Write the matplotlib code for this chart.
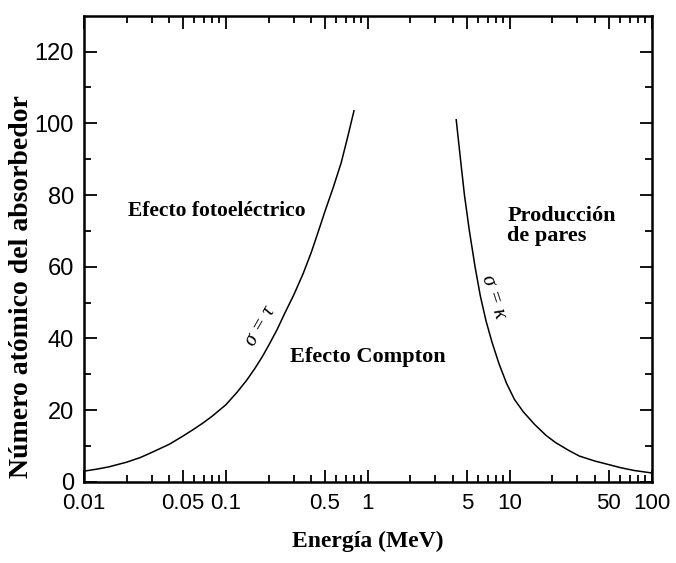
import matplotlib
matplotlib.use("Agg")
import matplotlib.pyplot as plt
import numpy as np

# frontera fotoeléctrico / Compton (sigma = tau)
e_photo = [0.01, 0.0125, 0.015, 0.02, 0.025, 0.03, 0.04, 0.05, 0.06, 0.07, 0.08, 0.1,
           0.12, 0.14, 0.16, 0.18, 0.2, 0.23, 0.26, 0.3, 0.35, 0.4, 0.45, 0.5, 0.57,
           0.65, 0.72, 0.8]
z_photo = [3, 3.6, 4.2, 5.5, 6.8, 8.2, 10.5, 12.8, 14.8, 16.6, 18.3, 21.5,
           25, 28.3, 31.6, 34.8, 38, 42.5, 47, 52, 58, 64, 70, 75.5, 82,
           89, 96, 103.5]

# frontera Compton / pares (sigma = kappa)
e_pair = [4.2, 4.5, 4.8, 5.2, 5.7, 6.2, 6.8, 7.5, 8.4, 9.5, 10.8, 12.5, 15, 18, 21,
          26, 31, 40, 48, 60, 75, 100]
z_pair = [101, 90, 80, 70, 60, 52, 45, 39, 33, 27.5, 23, 19.5, 16, 13, 11,
          8.8, 7.2, 5.8, 5, 4, 3.2, 2.5]

x_major = [0.01, 0.05, 0.1, 0.5, 1, 5, 10, 50, 100]
x_labels = ['0.01', '0.05', '0.1', '0.5', '1', '5', '10', '50', '100']
y_major = [0, 20, 40, 60, 80, 100, 120]

serif = ['Liberation Serif', 'DejaVu Serif']
sans = ['Liberation Sans', 'DejaVu Sans']

fig = plt.figure(figsize=(6.76, 5.63), dpi=100)
ax = fig.add_axes([0.124, 0.144, 0.840, 0.828])

ax.plot(e_photo, z_photo, color='black', lw=1.1)
ax.plot(e_pair, z_pair, color='black', lw=1.1)

ax.set_xscale('log')
ax.set_xlim(0.01, 100)
ax.set_ylim(0, 130)

minor = [m * d for d in [0.01, 0.1, 1, 10] for m in [2, 3, 4, 6, 7, 8, 9]]
ax.set_xticks(x_major)
ax.set_xticklabels(x_labels, family=sans, fontsize=16)
ax.set_xticks(minor, minor=True)
ax.set_xticklabels([], minor=True)
ax.set_yticks(y_major)
ax.set_yticklabels([str(v) for v in y_major], family=sans, fontsize=17)
ax.set_yticks(np.arange(10, 130, 20), minor=True)

ax.tick_params(which='both', direction='in', top=True, right=True, width=1.3)
ax.tick_params(which='major', length=9)
ax.tick_params(which='minor', length=5)
ax.tick_params(axis='x', which='major', pad=8)
ax.tick_params(axis='y', which='major', pad=7)
for s in ax.spines.values():
    s.set_linewidth(1.8)

ax.set_xlabel('Energía (MeV)', family=serif, fontweight='bold', fontsize=17, labelpad=12)
ax.set_ylabel('Número atómico del absorbedor', family=serif, fontweight='bold', fontsize=20)
ax.yaxis.set_label_coords(-0.088, 0.42)

ax.text(0.0204, 75.5, 'Efecto fotoeléctrico', family=serif, fontweight='bold', fontsize=15.5, va='center')
ax.text(0.283, 34.7, 'Efecto Compton', family=serif, fontweight='bold', fontsize=16, va='center')
ax.text(9.6, 71.5, 'Producción\nde pares', family=serif, fontweight='bold', fontsize=16,
        va='center', ha='left', linespacing=1.0)

ax.text(0.176, 43.4, 'σ = τ', family=serif, style='italic', fontsize=15,
        rotation=60, ha='center', va='center')
ax.text(7.6, 51.5, 'σ = κ', family=serif, style='italic', fontsize=15,
        rotation=-72, ha='center', va='center')

fig.savefig('out.png', dpi=100)
